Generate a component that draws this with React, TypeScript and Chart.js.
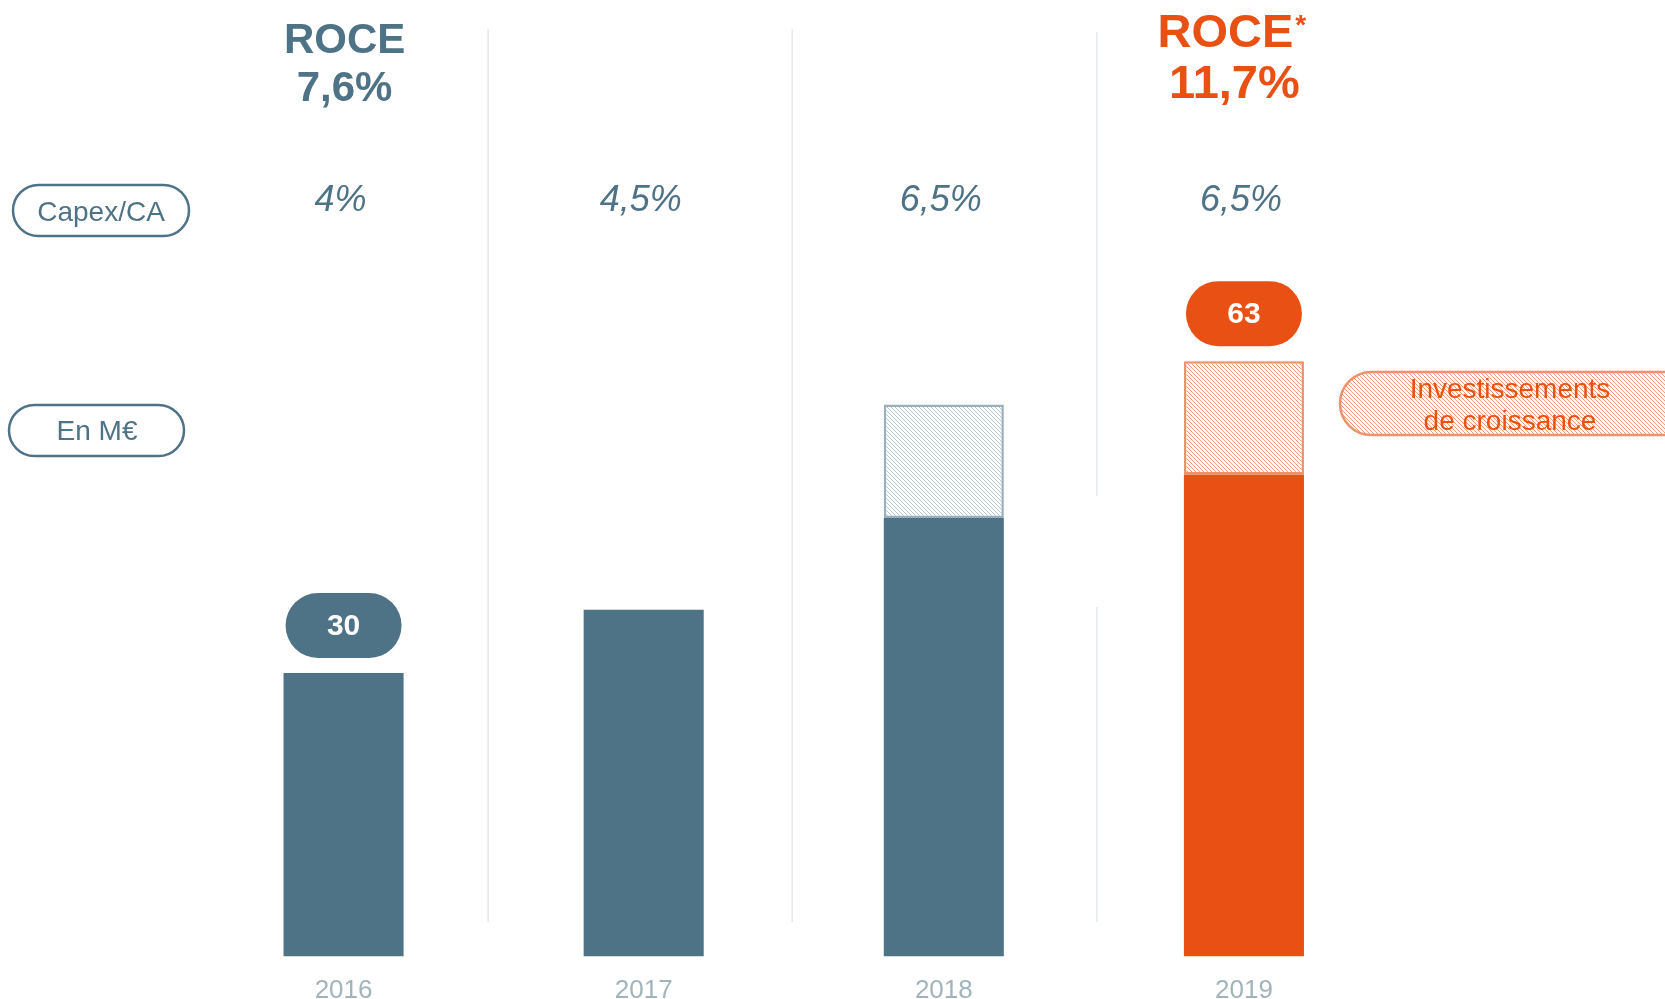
import React, { useEffect, useRef } from "react";
import { Chart, registerables } from "chart.js";

Chart.register(...registerables);

const years = ["2016", "2017", "2018", "2019"];
const baseCapex = [30, 36.7, 46.4, 51];
const growthCapex = [null, null, 12, 12];
const capexRatio = ["4%", "4,5%", "6,5%", "6,5%"];
const totalLabels = ["30", "", "", "63"];
const roceTitles = ["ROCE", "", "", "ROCE"];
const roceValues = ["7,6%", "", "", "11,7%"];
const growthLegend = ["Investissements", "de croissance"];

const FONT = '"Liberation Sans", Arial, sans-serif';
const BLUE = "#4f7386";
const ORANGE = "#e85014";
const ORANGE_LIGHT = "#f0906e";
const BLUE_LIGHT = "#98afbc";
const SEP_SHIFT = [-5.5, -1.5, 3];

function makeHatch(color: string) {
  const c = document.createElement("canvas");
  c.width = 4;
  c.height = 4;
  const g = c.getContext("2d")!;
  g.fillStyle = "#ffffff";
  g.fillRect(0, 0, 4, 4);
  g.fillStyle = color;
  for (let i = 0; i < 4; i++) g.fillRect(i, i, 1, 1);
  return g.createPattern(c, "repeat")!;
}

function pill(ctx: CanvasRenderingContext2D, x: number, y: number, w: number, h: number) {
  const r = h / 2;
  ctx.beginPath();
  ctx.moveTo(x + r, y);
  ctx.lineTo(x + w - r, y);
  ctx.arc(x + w - r, y + r, r, -Math.PI / 2, Math.PI / 2);
  ctx.lineTo(x + r, y + h);
  ctx.arc(x + r, y + r, r, Math.PI / 2, (3 * Math.PI) / 2);
  ctx.closePath();
}

function text(ctx: CanvasRenderingContext2D, s: string, x: number, y: number, font: string, color: string, align: CanvasTextAlign = "center") {
  ctx.font = font;
  ctx.fillStyle = color;
  ctx.textAlign = align;
  ctx.textBaseline = "middle";
  ctx.fillText(s, x, y);
}

export default function App() {
  const ref = useRef<HTMLCanvasElement>(null);

  useEffect(() => {
    document.body.style.margin = "0";
    const canvas = ref.current!;
    const blueHatch = makeHatch("#b7c7d0");
    const orangeHatch = makeHatch("#f59a78");

    const decor = {
      id: "decor",
      beforeDatasetsDraw(chart: any) {
        const ctx = chart.ctx as CanvasRenderingContext2D;
        const xs = chart.scales.x;
        ctx.save();
        ctx.strokeStyle = "#e4e9ec";
        ctx.lineWidth = 1.5;
        for (let i = 0; i < years.length - 1; i++) {
          const x = (xs.getPixelForValue(i) + xs.getPixelForValue(i + 1)) / 2 + SEP_SHIFT[i];
          ctx.beginPath();
          if (i === 2) {
            ctx.moveTo(x, 32);
            ctx.lineTo(x, 496);
            ctx.moveTo(x, 607);
            ctx.lineTo(x, 922);
          } else {
            ctx.moveTo(x, 29);
            ctx.lineTo(x, 922);
          }
          ctx.stroke();
        }
        ctx.restore();
      },
      afterDatasetsDraw(chart: any) {
        const ctx = chart.ctx as CanvasRenderingContext2D;
        const xs = chart.scales.x;
        const m0 = chart.getDatasetMeta(0);
        const m1 = chart.getDatasetMeta(1);
        ctx.save();

        // left side pills
        ctx.lineWidth = 2.5;
        ctx.strokeStyle = BLUE;
        ctx.fillStyle = "#ffffff";
        pill(ctx, 13, 185, 176, 51);
        ctx.fill();
        ctx.stroke();
        text(ctx, "Capex/CA", 101, 213, `28px ${FONT}`, BLUE);
        ctx.lineWidth = 2.5;
        ctx.strokeStyle = BLUE;
        ctx.fillStyle = "#ffffff";
        pill(ctx, 9, 405, 175, 51);
        ctx.fill();
        ctx.stroke();
        text(ctx, "En M€", 97, 432, `28px ${FONT}`, BLUE);

        years.forEach((_, i) => {
          const cx = xs.getPixelForValue(i);
          // capex ratio
          text(ctx, capexRatio[i], cx - 3, 201, `italic 36px ${FONT}`, BLUE);
          // value pills
          if (totalLabels[i]) {
            const el = growthCapex[i] != null ? m1.data[i] : m0.data[i];
            const top = el.y;
            const col = i === years.length - 1 ? ORANGE : BLUE;
            ctx.fillStyle = col;
            pill(ctx, cx - 58, top - 15 - 65, 116, 65);
            ctx.fill();
            text(ctx, totalLabels[i], cx, top - 15 - 32.5 + 1, `bold 30px ${FONT}`, "#ffffff");
          }
          // ROCE headings
          if (roceTitles[i]) {
            if (i === years.length - 1) {
              text(ctx, roceTitles[i], cx - 18.5, 34, `bold 47px ${FONT}`, ORANGE);
              ctx.font = `bold 47px ${FONT}`;
              const w = ctx.measureText(roceTitles[i]).width;
              text(ctx, "*", cx - 18.5 + w / 2 + 2, 26, `bold 28px ${FONT}`, ORANGE, "left");
              text(ctx, roceValues[i], cx - 9.5, 85, `bold 47px ${FONT}`, ORANGE);
            } else {
              text(ctx, roceTitles[i], cx + 1, 41, `bold 42px ${FONT}`, BLUE);
              text(ctx, roceValues[i], cx + 1, 89, `bold 42px ${FONT}`, BLUE);
            }
          }
        });

        // growth legend pill
        ctx.fillStyle = orangeHatch;
        ctx.strokeStyle = ORANGE_LIGHT;
        ctx.lineWidth = 2.5;
        pill(ctx, 1340, 372, 420, 63);
        ctx.fill();
        ctx.stroke();
        text(ctx, growthLegend[0], 1510, 390, `28px ${FONT}`, ORANGE);
        text(ctx, growthLegend[1], 1510, 422, `28px ${FONT}`, ORANGE);

        ctx.restore();
      },
    };

    const chart = new Chart(canvas, {
      type: "bar",
      data: {
        labels: years,
        datasets: [
          {
            label: "Capex",
            data: baseCapex,
            backgroundColor: [BLUE, BLUE, BLUE, ORANGE],
            borderWidth: 0,
            barPercentage: 0.4,
            categoryPercentage: 1,
          },
          {
            label: "Investissements de croissance",
            data: growthCapex as any,
            backgroundColor: [blueHatch, blueHatch, blueHatch, orangeHatch] as any,
            borderColor: [BLUE_LIGHT, BLUE_LIGHT, BLUE_LIGHT, ORANGE_LIGHT],
            borderWidth: 2.5,
            borderSkipped: false,
            barPercentage: 0.4,
            categoryPercentage: 1,
          },
        ],
      },
      options: {
        responsive: false,
        animation: false,
        maintainAspectRatio: false,
        layout: { padding: { left: 193.5, right: 271, top: 106, bottom: -25.5 } },
        plugins: { legend: { display: false }, tooltip: { enabled: false } },
        scales: {
          x: {
            stacked: true,
            grid: { display: false, drawTicks: false },
            border: { display: false },
            ticks: {
              color: "#a3b3bc",
              padding: 21,
              font: { family: FONT, size: 26, lineHeight: 1 },
            },
          },
          y: {
            stacked: true,
            display: false,
            min: 0,
            max: 90,
          },
        },
      },
      plugins: [decor],
    });
    return () => chart.destroy();
  }, []);

  return (
    <div style={{ width: 1665, height: 999, background: "#ffffff" }}>
      <canvas ref={ref} width={1665} height={999} style={{ display: "block" }} />
    </div>
  );
}
